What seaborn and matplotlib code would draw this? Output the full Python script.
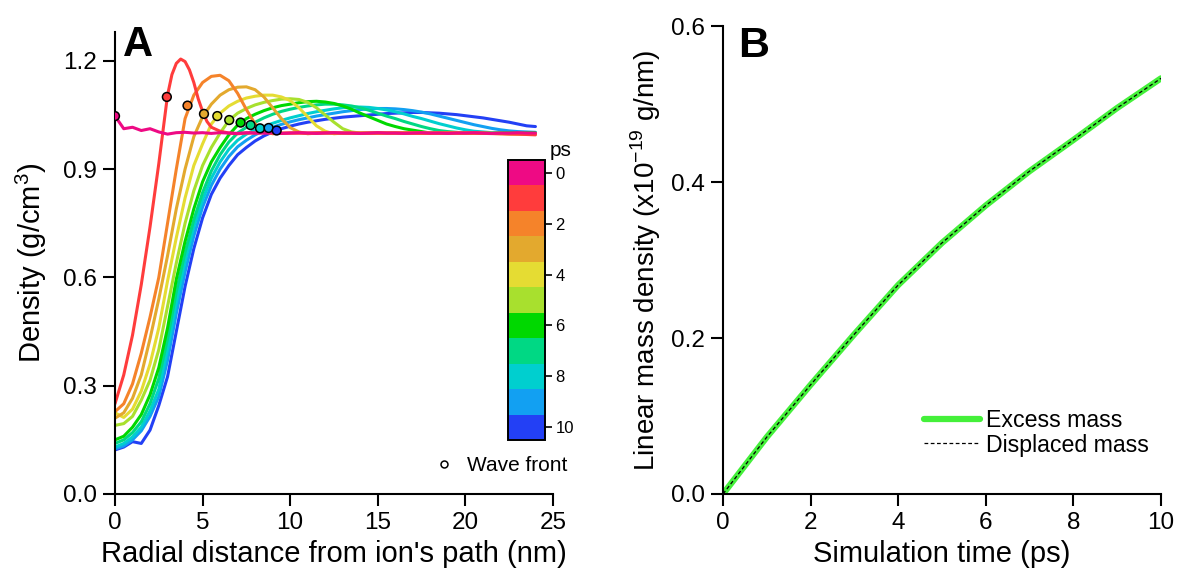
import numpy as np
import pandas as pd
import matplotlib
matplotlib.use("Agg")
import matplotlib.pyplot as plt
from matplotlib.colors import ListedColormap, BoundaryNorm
from matplotlib.lines import Line2D
import seaborn as sns

# ---------------- data ----------------
radius = [0, 0.5, 1, 1.5, 2, 2.5, 3, 3.5, 4, 4.5,
          5, 5.5, 6, 6.5, 7, 7.5, 8, 8.5, 9, 9.5,
          10, 10.5, 11, 11.5, 12, 12.5, 13, 13.5, 14, 14.5,
          15, 15.5, 16, 16.5, 17, 17.5, 18, 18.5, 19, 19.5,
          20, 20.5, 21, 21.5, 22, 22.5, 23, 23.5, 24]

# finer sampling for the sharp 1 ps peak
radius_t1 = [0, 0.5, 1, 1.5, 2, 2.5, 2.75, 3, 3.25, 3.5, 3.75, 4, 4.25, 4.5, 4.75,
             5, 5.25, 5.5, 6, 6.5, 7, 7.5, 8, 8.5, 9, 9.5,
             10, 11, 12, 13, 14, 15, 16, 17, 18, 19, 20, 21, 22, 23, 24]

times_ps = [0, 1, 2, 3, 4, 5, 6, 7, 8, 9, 10]

dens_t0 = [1.047, 1.012, 1.016, 1.007, 1.012, 1.003, 0.997, 1.001, 1.002, 1.000,
           1.001, 0.999, 1.001, 1.000, 0.999, 1.001, 1.000, 1.000, 1.001, 0.999,
           1.000, 1.001, 1.000, 0.999, 1.000, 1.001, 1.000, 1.000, 0.999, 1.000,
           1.001, 1.000, 1.000, 0.999, 1.000, 1.001, 1.000, 1.000, 0.999, 1.000,
           1.000, 1.001, 1.000, 0.999, 1.000, 1.000, 1.001, 1.000, 1.000]
dens_t1 = [0.250, 0.330, 0.440, 0.580, 0.740, 0.915, 1.010, 1.105, 1.162, 1.193,
           1.205, 1.198, 1.175, 1.140, 1.095, 1.060, 1.032, 1.016, 1.005, 1.000,
           0.998, 1.000, 1.000, 1.001, 1.000, 0.999,
           1.000, 1.000, 1.001, 1.000, 0.999, 1.000, 1.000, 1.000, 0.999, 1.000,
           1.000, 0.999, 0.998, 0.997, 0.995]
dens_t2 = [0.228, 0.250, 0.305, 0.390, 0.490, 0.600, 0.750, 0.900, 1.040, 1.105,
           1.140, 1.157, 1.160, 1.145, 1.110, 1.065, 1.025, 1.005, 0.998, 1.000,
           1.000, 1.000, 0.999, 1.000, 1.000, 1.000, 0.999, 1.000, 1.000, 1.000,
           1.000, 0.999, 1.000, 1.000, 1.000, 0.999, 1.000, 1.000, 1.000, 1.000,
           0.999, 1.000, 1.000, 0.999, 0.999, 0.998, 0.998, 0.998, 0.997]
dens_t3 = [0.210, 0.225, 0.265, 0.330, 0.430, 0.540, 0.660, 0.790, 0.900, 0.990,
           1.045, 1.080, 1.105, 1.120, 1.127, 1.128, 1.120, 1.100, 1.070, 1.040,
           1.015, 1.003, 0.998, 1.000, 1.000, 0.999, 1.000, 1.000, 1.000, 0.999,
           1.000, 1.000, 1.000, 0.999, 1.000, 1.000, 1.000, 1.000, 0.999, 1.000,
           1.000, 1.000, 0.999, 0.999, 0.999, 0.998, 0.998, 0.998, 0.998]
dens_t4 = [0.225, 0.212, 0.235, 0.285, 0.360, 0.460, 0.590, 0.710, 0.820, 0.910,
           0.970, 1.025, 1.055, 1.075, 1.088, 1.097, 1.102, 1.105, 1.105, 1.100,
           1.090, 1.070, 1.045, 1.020, 1.005, 0.998, 1.000, 1.000, 0.999, 1.000,
           1.000, 1.000, 0.999, 1.000, 1.000, 1.000, 1.000, 0.999, 1.000, 1.000,
           1.000, 0.999, 0.999, 0.999, 0.998, 0.998, 0.998, 0.998, 0.998]
dens_t5 = [0.190, 0.195, 0.215, 0.260, 0.315, 0.400, 0.520, 0.640, 0.750, 0.840,
           0.910, 0.960, 1.000, 1.035, 1.055, 1.068, 1.078, 1.085, 1.090, 1.094,
           1.095, 1.093, 1.085, 1.070, 1.050, 1.030, 1.012, 1.003, 1.000, 1.000,
           0.999, 1.000, 1.000, 1.000, 0.999, 1.000, 1.000, 1.000, 1.000, 0.999,
           1.000, 1.000, 0.999, 0.999, 0.999, 0.999, 0.998, 0.998, 0.998]
dens_t6 = [0.150, 0.160, 0.185, 0.220, 0.275, 0.350, 0.460, 0.595, 0.700, 0.790,
           0.865, 0.920, 0.960, 0.995, 1.022, 1.040, 1.052, 1.062, 1.070, 1.076,
           1.080, 1.084, 1.087, 1.088, 1.086, 1.082, 1.075, 1.066, 1.055, 1.045,
           1.035, 1.025, 1.018, 1.012, 1.008, 1.004, 1.000, 1.000, 1.000, 0.999,
           1.000, 1.000, 1.000, 0.999, 1.000, 1.000, 0.999, 1.000, 1.000]
dens_t7 = [0.140, 0.150, 0.170, 0.200, 0.250, 0.320, 0.430, 0.560, 0.670, 0.760,
           0.835, 0.895, 0.940, 0.975, 1.000, 1.016, 1.030, 1.042, 1.052, 1.060,
           1.066, 1.071, 1.075, 1.078, 1.080, 1.080, 1.078, 1.075, 1.070, 1.063,
           1.055, 1.047, 1.040, 1.032, 1.025, 1.018, 1.012, 1.007, 1.004, 1.002,
           1.000, 1.000, 1.000, 0.999, 1.000, 1.000, 1.000, 1.000, 1.000]
dens_t8 = [0.130, 0.140, 0.158, 0.185, 0.230, 0.290, 0.400, 0.530, 0.645, 0.740,
           0.815, 0.875, 0.920, 0.955, 0.980, 0.997, 1.008, 1.018, 1.027, 1.035,
           1.042, 1.048, 1.054, 1.059, 1.063, 1.067, 1.070, 1.072, 1.072, 1.071,
           1.068, 1.064, 1.059, 1.053, 1.046, 1.040, 1.033, 1.026, 1.020, 1.014,
           1.009, 1.005, 1.003, 1.001, 1.000, 1.000, 1.000, 1.000, 1.000]
dens_t9 = [0.125, 0.133, 0.150, 0.175, 0.215, 0.270, 0.370, 0.500, 0.615, 0.715,
           0.795, 0.855, 0.900, 0.935, 0.962, 0.980, 0.995, 1.007, 1.016, 1.024,
           1.031, 1.037, 1.042, 1.047, 1.051, 1.055, 1.059, 1.062, 1.065, 1.067,
           1.068, 1.068, 1.067, 1.065, 1.062, 1.058, 1.053, 1.047, 1.041, 1.035,
           1.029, 1.023, 1.018, 1.013, 1.009, 1.006, 1.004, 1.003, 1.002]
dens_t10 = [0.122, 0.130, 0.145, 0.140, 0.177, 0.245, 0.325, 0.450, 0.575, 0.680,
            0.765, 0.830, 0.875, 0.910, 0.940, 0.960, 0.978, 0.992, 1.003, 1.012,
            1.019, 1.025, 1.030, 1.034, 1.038, 1.041, 1.044, 1.046, 1.048, 1.050,
            1.052, 1.054, 1.055, 1.056, 1.057, 1.057, 1.056, 1.055, 1.053, 1.051,
            1.048, 1.045, 1.042, 1.038, 1.034, 1.030, 1.025, 1.020, 1.018]

front_r = [0, 2.96, 4.14, 5.08, 5.84, 6.52, 7.17, 7.74, 8.28, 8.77, 9.23]
front_d = [1.047, 1.100, 1.076, 1.053, 1.047, 1.036, 1.029, 1.022, 1.013, 1.014, 1.007]

time_colors = ["#EE0A84", "#FF3C3C", "#F5832A", "#E3A92E", "#E5DC33", "#A8E02E",
               "#00D800", "#00D884", "#00CFCF", "#12A0F2", "#2340F5"]

sim_time = [0, 1, 2, 3, 4, 5, 6, 7, 8, 9, 10]
excess_mass = [0.0, 0.073, 0.140, 0.205, 0.268, 0.322, 0.370, 0.414, 0.454, 0.495, 0.533]
displaced_mass = [0.0, 0.073, 0.140, 0.205, 0.268, 0.322, 0.370, 0.414, 0.454, 0.495, 0.533]

# ---------------- style ----------------
sns.set_theme(style="ticks")
plt.rcParams['font.family'] = ['Liberation Sans', 'DejaVu Sans']
plt.rcParams['mathtext.fontset'] = 'custom'
plt.rcParams['mathtext.rm'] = 'Liberation Sans'
plt.rcParams['text.color'] = 'black'
plt.rcParams['axes.labelcolor'] = 'black'
plt.rcParams['axes.edgecolor'] = 'black'
plt.rcParams['axes.linewidth'] = 1.5
for k in ['xtick', 'ytick']:
    plt.rcParams[f'{k}.major.width'] = 1.5
    plt.rcParams[f'{k}.major.size'] = 8.5
    plt.rcParams[f'{k}.major.pad'] = 4.5
    plt.rcParams[f'{k}.direction'] = 'out'
    plt.rcParams[f'{k}.labelsize'] = 17.5
    plt.rcParams[f'{k}.color'] = 'black'
    plt.rcParams[f'{k}.labelcolor'] = 'black'

fig = plt.figure(figsize=(11.77, 5.72), dpi=100)
axA = fig.add_axes([0.0977, 0.1364, 0.3721, 0.8077])
axB = fig.add_axes([0.6143, 0.1364, 0.3721, 0.818])

# ---------------- panel A ----------------
all_dens = [dens_t0, dens_t1, dens_t2, dens_t3, dens_t4, dens_t5,
            dens_t6, dens_t7, dens_t8, dens_t9, dens_t10]
all_r = [radius, radius_t1] + [radius] * 9
rows = []
for t, rr, d in zip(times_ps, all_r, all_dens):
    for r, v in zip(rr, d):
        rows.append((t, r, v))
dfA = pd.DataFrame(rows, columns=["t", "r", "density"])
for t in reversed(times_ps):
    sub = dfA[dfA.t == t]
    sns.lineplot(data=sub, x="r", y="density", color=time_colors[t], lw=2.2,
                 ax=axA, legend=False, sort=False, solid_joinstyle='round')

dfF = pd.DataFrame({"r": front_r, "density": front_d, "t": times_ps})
sns.scatterplot(data=dfF, x="r", y="density", hue="t", palette=time_colors,
                s=40, edgecolor="black", linewidth=1.1, ax=axA, legend=False, zorder=5)

axA.set_xlim(0, 25)
axA.set_ylim(0, 1.28)
axA.set_xticks([0, 5, 10, 15, 20, 25])
axA.set_yticks([0.0, 0.3, 0.6, 0.9, 1.2])
axA.set_yticklabels(["0.0", "0.3", "0.6", "0.9", "1.2"])
axA.set_xlabel("Radial distance from ion's path (nm)", fontsize=21, labelpad=4)
axA.set_ylabel("Density (g/cm$^3$)", fontsize=21, labelpad=10)
sns.despine(ax=axA)
axA.text(0.018, 1.015, "A", transform=axA.transAxes, fontsize=30, fontweight='bold',
         va='top', ha='left')

axA.legend(handles=[Line2D([], [], marker='o', ls='', mfc='white', mec='black',
                           ms=5, mew=1.1, label='Wave front')],
           loc='lower right', bbox_to_anchor=(1.032, 0.04), frameon=False,
           fontsize=15, handlelength=1.0, handletextpad=0.6, borderaxespad=0, borderpad=0)

# colorbar
cax = fig.add_axes([508 / 1177, 1 - 440 / 572, 37 / 1177, 280 / 572])
cmap = ListedColormap(time_colors)
norm = BoundaryNorm(np.arange(-0.5, 11.5, 1), cmap.N)
sm = plt.cm.ScalarMappable(cmap=cmap, norm=norm)
cb = fig.colorbar(sm, cax=cax, ticks=[0, 2, 4, 6, 8, 10])
cb.ax.invert_yaxis()
cb.ax.minorticks_off()
cb.ax.tick_params(labelsize=12, length=5, width=1.2, pad=2.5, colors='black')
cb.outline.set_linewidth(1.4)
cb.ax.set_title("ps", fontsize=15, loc='right', pad=1, x=1.72)

# ---------------- panel B ----------------
dfB = pd.DataFrame({"time": sim_time, "excess": excess_mass, "displaced": displaced_mass})
sns.lineplot(data=dfB, x="time", y="excess", color="#44F03A", lw=4.5,
             ax=axB, label="Excess mass", solid_capstyle='round')
sns.lineplot(data=dfB, x="time", y="displaced", color="black", lw=0.9,
             ax=axB, label="Displaced mass", linestyle=(0, (3, 2)))
axB.set_xlim(0, 10)
axB.set_ylim(0, 0.6)
axB.set_xticks([0, 2, 4, 6, 8, 10])
axB.set_yticks([0.0, 0.2, 0.4, 0.6])
axB.set_yticklabels(["0.0", "0.2", "0.4", "0.6"])
axB.set_xlabel("Simulation time (ps)", fontsize=21, labelpad=4)
axB.set_ylabel("Linear mass density (x10$^{-19}$ g/nm)", fontsize=20, labelpad=6)
sns.despine(ax=axB)
axB.text(0.035, 1.0, "B", transform=axB.transAxes, fontsize=31, fontweight='bold',
         va='top', ha='left')
axB.legend(loc='lower right', bbox_to_anchor=(0.972, 0.08), frameon=False, fontsize=16.7,
           handlelength=2.4, handletextpad=0.25, labelspacing=0.05,
           borderaxespad=0, borderpad=0)

fig.savefig("out.png", dpi=100)
